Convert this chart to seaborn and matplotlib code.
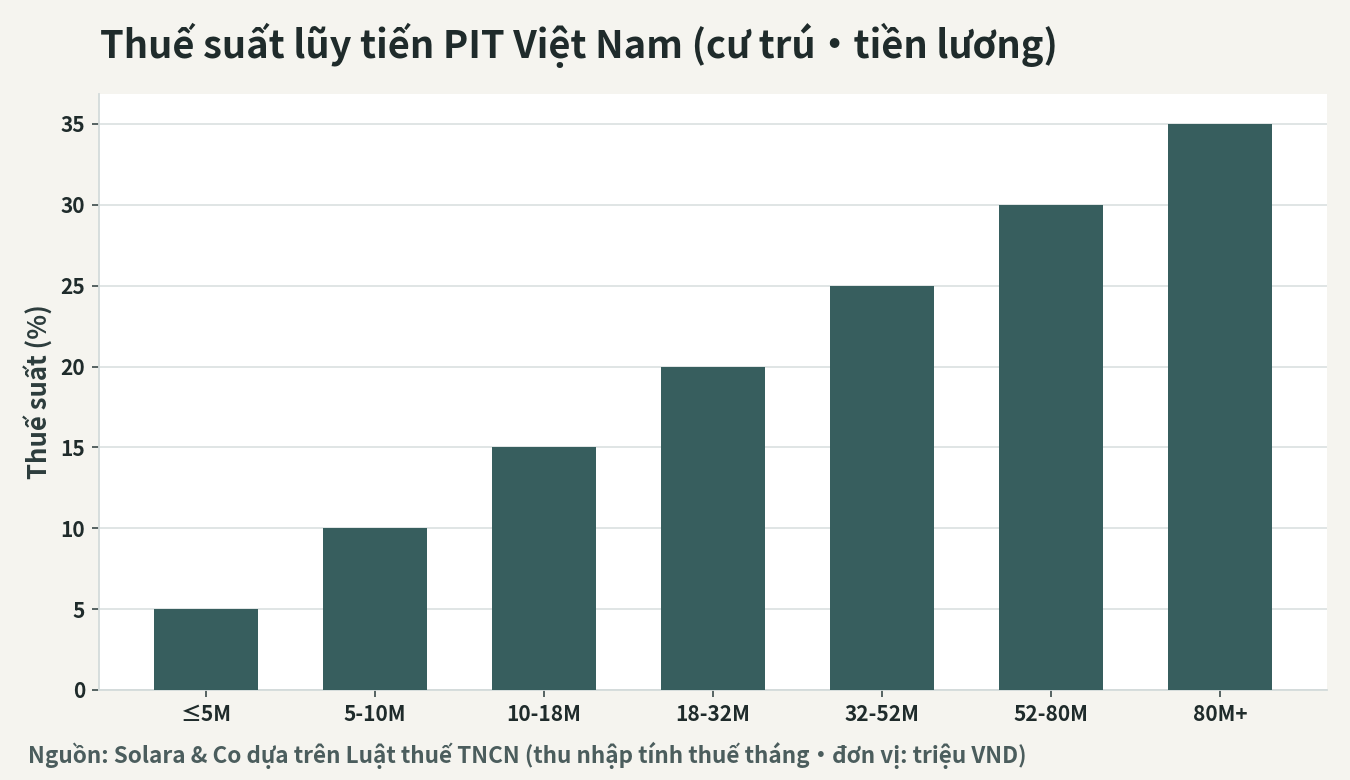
import matplotlib
matplotlib.use("Agg")
import matplotlib.pyplot as plt
import seaborn as sns
import pandas as pd

brackets = ["≤5M", "5-10M", "10-18M", "18-32M", "32-52M", "52-80M", "80M+"]
rates = [5, 10, 15, 20, 25, 30, 35]
yticks = [0, 5, 10, 15, 20, 25, 30, 35]

title = "Thuế suất lũy tiến PIT Việt Nam (cư trú・tiền lương)"
ylabel = "Thuế suất (%)"
footer = "Nguồn: Solara & Co dựa trên Luật thuế TNCN (thu nhập tính thuế tháng・đơn vị: triệu VND)"

sns.set_theme(style="white")
plt.rcParams['font.family'] = ['Noto Sans CJK JP', 'DejaVu Sans']

BG = "#f5f4ef"
BAR = "#375e5e"
DARK = "#1f2b2b"
GRID = "#dde3e3"

df = pd.DataFrame({"bracket": brackets, "rate": rates})

fig = plt.figure(figsize=(13.5, 7.8), dpi=100, facecolor=BG)
ax = fig.add_axes([99/1350, 1 - 690/780, (1327-99)/1350, (690-94)/780])
ax.set_facecolor("white")

sns.barplot(data=df, x="bracket", y="rate", color=BAR, width=0.62,
            saturation=1, linewidth=0, ax=ax, zorder=3)

ax.set_xlim(-0.633, 6.633)
ax.set_ylim(0, 36.85)
ax.set_yticks(yticks)
ax.yaxis.grid(True, color=GRID, linewidth=1.3, zorder=0)
ax.set_axisbelow(True)

for s in ["top", "right"]:
    ax.spines[s].set_visible(False)
for s in ["left", "bottom"]:
    ax.spines[s].set_color("#d3dbdb")
    ax.spines[s].set_linewidth(1.3)

ax.tick_params(axis="both", which="both", length=5, width=1.2, color="#3a4a4a",
               labelsize=15, labelcolor=DARK, pad=5, left=True, bottom=True)
for lbl in ax.get_xticklabels() + ax.get_yticklabels():
    lbl.set_fontweight("bold")

ax.set_xlabel("")
ax.set_ylabel(ylabel, fontsize=18.5, fontweight="bold", color="#2c3c3c", labelpad=5)

fig.text(100/1350, 1 - 45/780, title, fontsize=27.4, fontweight="bold",
         color=DARK, ha="left", va="center")
fig.text(28/1350, 1 - 755/780, footer, fontsize=16.2, fontweight="bold",
         color="#4b5d5d", ha="left", va="center")

fig.savefig("out.png", dpi=100, facecolor=BG)
